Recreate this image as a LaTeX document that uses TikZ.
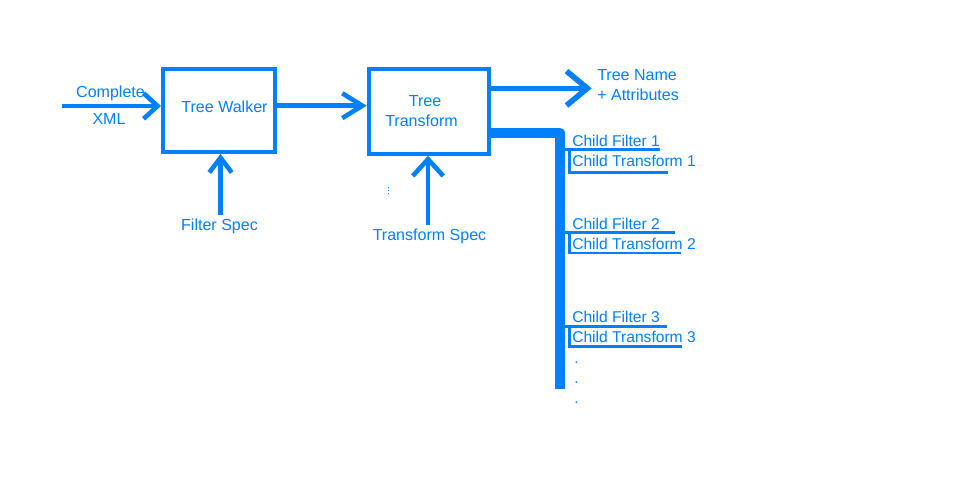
\documentclass[tikz,border=0pt]{standalone}
\usepackage{fontspec}
\setmainfont{Liberation Sans}
\usetikzlibrary{arrows.meta}
\definecolor{flowblue}{RGB}{0,128,255}
\tikzset{
  box/.style={draw=flowblue, line width=1mm, inner sep=0pt},
  flow/.style={draw=flowblue, line width=1.15mm},
  lbl/.style={text=flowblue, inner sep=0pt, anchor=base, font=\fontsize{11.4}{13}\selectfont},
  childlbl/.style={lbl, anchor=base west, font=\fontsize{11.1}{13}\selectfont},
  brk/.style={draw=flowblue, line width=0.65mm},
  bus/.style={draw=flowblue, line width=2.5mm, line join=round}
}

\begin{document}
\begin{tikzpicture}[x=0.025cm, y=-0.025cm]
    \useasboundingbox (0,0) rectangle (960,480);

    % Boxes
    \node[box, minimum width=2.8cm, minimum height=2.08cm] (walker) at (219,110.3) {};
    \node[box, minimum width=3cm, minimum height=2.125cm] (transform) at (428.7,111.2) {};
    \node[lbl] (walkertxt) at (224.5,112.3) {Tree Walker};
    \node[lbl] (transtxt1) at (425,106) {Tree};
    \node[lbl] (transtxt2) at (421.5,126) {Transform};

    % Input
    \node[lbl] (complete) at (110.5,97.5) {Complete};
    \node[lbl] (xml) at (109,124.5) {XML};
    \coordinate (xmlin) at (62,106);
    \draw[flow, -{Straight Barb[length=0.35cm,width=0.64cm]}] (xmlin) -- (xmlin -| walker.west);

    % Walker to transform
    \path (0,105.7) coordinate (lvl1);
    \draw[flow, -{Straight Barb[length=0.5cm,width=0.62cm]}] (walker.east |- lvl1) -- (transform.west |- lvl1);

    % Specs
    \node[lbl] (filterspec) at (219.5,230) {Filter Spec};
    \coordinate (fs) at (220.5,215);
    \draw[flow, -{Straight Barb[length=0.37cm,width=0.56cm]}] (fs) -- (fs |- walker.south);
    \node[lbl] (transspec) at (429.5,240) {Transform Spec};
    \coordinate (ts) at (428,225);
    \draw[flow, -{Straight Barb[length=0.42cm,width=0.76cm]}] (ts) -- (ts |- transform.south);
    \draw[flowblue, line width=0.5pt, dash pattern=on 1pt off 1pt] (388.3,187) -- (388.3,194);

    % Tree name output
    \coordinate (tn) at (591.7,88.3);
    \draw[flow, line width=1.4mm, -{Straight Barb[length=0.52cm,width=0.86cm]}] (transform.east |- tn) -- (tn);
    \node[lbl, anchor=base west] (treename) at (597,80.7) {Tree Name};
    \node[lbl, anchor=base west] (attrs) at (597,100) {+ Attributes};

    % Children bus
    \coordinate (busend) at (559.5,389);
    \path (0,132.5) coordinate (lvl3);
    \draw[bus] (transform.east |- lvl3) -- (busend |- lvl3) -- (busend);

    \foreach \i/\yf/\yt/\xf/\xt/\ba/\bb in {1/149.3/172.3/660/668/146/166,
                                          2/232.7/253/675/681/229/249,
                                          3/326.7/346.7/667/682/322.7/342.7} {
        \node[childlbl] (cf\i) at (572,\ba) {Child Filter \i};
        \node[childlbl] (ct\i) at (572,\bb) {Child Transform \i};
        \draw[brk] (564,\yf) -- (\xf,\yf);
        \draw[brk] (569.5,\yf) -- (569.5,\yt) -- (\xt,\yt);
    }
    \foreach \d/\yy in {1/363,2/383,3/403} {
        \node[childlbl] (dot\d) at (574,\yy) {.};
    }
\end{tikzpicture}
\end{document}
